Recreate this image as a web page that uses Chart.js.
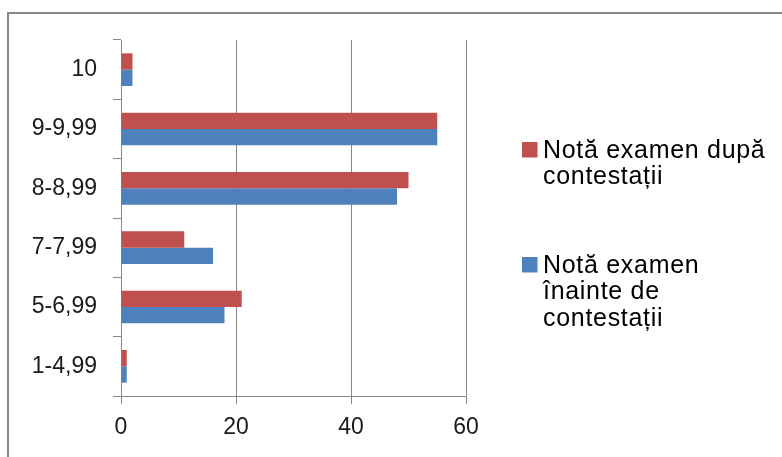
<!DOCTYPE html>
<html>
<head>
<meta charset="utf-8">
<script src="https://cdn.jsdelivr.net/npm/chart.js@4.4.1/dist/chart.umd.min.js"></script>
<style>
    html, body { margin: 0; padding: 0; background: #fff; overflow: hidden; }
    .frame {
        position: absolute; left: 7px; top: 12px;
        width: 800px; height: 460px;
        border: 2px solid #878787;
    }
    #wrap { position: absolute; left: 0; top: 0; width: 782px; height: 457px; }
</style>
</head>
<body>
<div class="frame"></div>
<div id="wrap"><canvas id="chart" width="782" height="457"></canvas></div>
<script>
// ========== DATA ==========
const categories = ['10', '9-9,99', '8-8,99', '7-7,99', '5-6,99', '1-4,99'];
const afterAppeal = [2, 55, 50, 11, 21, 1];
const beforeAppeal = [2, 55, 48, 16, 18, 1];
const seriesNames = ['Notă examen după contestații', 'Notă examen înainte de contestații'];
const legendLines = [['Notă examen după', 'contestații'], ['Notă examen', 'înainte de', 'contestații']];
const xTicks = [0, 20, 40, 60];

// ========== LEGEND (wrapped, Excel style) ==========
const sideLegend = {
    id: 'sideLegend',
    afterDraw(chart) {
        const c = chart.ctx;
        const left = chart.chartArea.right + 56;
        const firstBaseline = [157.5, 272.5];
        const lineGap = 26.8;
        c.save();
        c.font = "25px 'Liberation Sans', Arial, sans-serif";
        if ('letterSpacing' in c) c.letterSpacing = '0.7px';
        c.textBaseline = 'alphabetic';
        chart.data.datasets.forEach((ds, i) => {
            const base = firstBaseline[i];
            c.fillStyle = ds.backgroundColor;
            c.fillRect(left, base - 15.5, 15.5, 15.5);
            c.fillStyle = '#000';
            legendLines[i].forEach((line, j) => {
                c.fillText(line, left + 21, base + j * lineGap);
            });
        });
        c.restore();
    }
};

// ========== CHART ==========
Chart.defaults.font.family = "'Liberation Sans', Arial, sans-serif";
Chart.defaults.color = '#1a1a1a';

const ctx = document.getElementById('chart').getContext('2d');

new Chart(ctx, {
    type: 'bar',
    data: {
        labels: categories,
        datasets: [{
            label: seriesNames[0],
            data: afterAppeal,
            backgroundColor: '#c0504d',
            borderWidth: 0
        }, {
            label: seriesNames[1],
            data: beforeAppeal,
            backgroundColor: '#4f81bd',
            borderWidth: 0
        }]
    },
    options: {
        indexAxis: 'y',
        responsive: false,
        animation: false,
        categoryPercentage: 0.55,
        barPercentage: 1,
        layout: {
            padding: { left: 0, top: 40, right: 316, bottom: 0 }
        },
        plugins: {
            tooltip: { enabled: false },
            legend: { display: false }
        },
        scales: {
            x: {
                min: 0,
                max: 60,
                afterBuildTicks: scale => { scale.ticks = xTicks.map(v => ({ value: v })); },
                afterFit: scale => { scale.height = 61; },
                grid: { color: '#878787', tickLength: 8, lineWidth: 1 },
                border: { color: '#878787', width: 1 },
                ticks: { font: { size: 23 }, padding: 10, maxRotation: 0 }
            },
            y: {
                afterFit: scale => { scale.width = 121; },
                grid: { offset: true, drawOnChartArea: false, color: '#878787', tickLength: 8 },
                border: { color: '#878787', width: 1 },
                ticks: { font: { size: 23 }, padding: 16 }
            }
        }
    },
    plugins: [sideLegend]
});
</script>
</body>
</html>
